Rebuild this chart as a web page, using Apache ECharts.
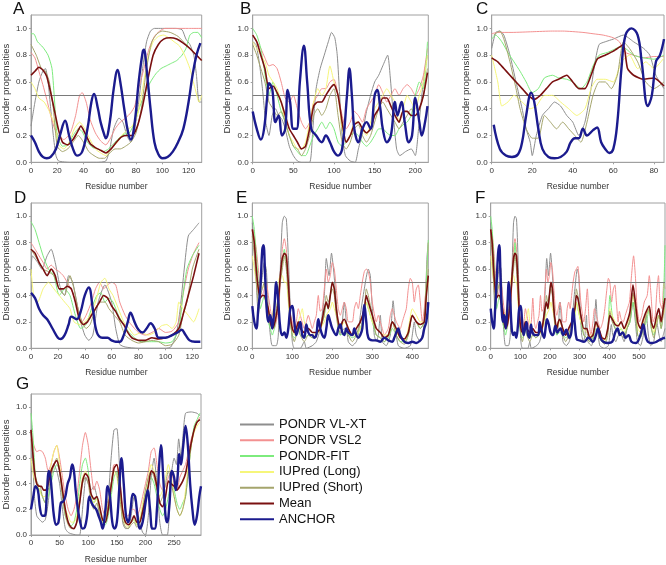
<!DOCTYPE html>
<html><head><meta charset="utf-8">
<script src="https://cdn.jsdelivr.net/npm/echarts@6/dist/echarts.min.js"></script>
<style>html,body{margin:0;padding:0;background:#fff}#c{width:666px;height:565px}</style>
</head><body><div id="c"></div>
<script>
const SERIES_NAMES = ['PONDR VL-XT','PONDR VSL2','PONDR-FIT','IUPred (Long)','IUPred (Short)','Mean','ANCHOR'];
const PANEL_LETTERS = ['A','B','C','D','E','F','G'];
const X_MAX = [130, 216, 85, 127, 440, 588, 297];
const X_INTERVAL = [20, 50, 20, 20, 100, 100, 50];
const Y_TICKS = [0, 0.2, 0.4, 0.6, 0.8, 1.0];

// ---- Panel A ----
const A_VLXT = [[0,0.27],[3,0.45],[6,0.6],[9,0.68],[11,0.7],[13,0.6],[15,0.4],[17,0.2],[19,0.05],[21,0.01],[30,0.0],[40,0.0],[50,0.0],[57,0.01],[60,0.1],[63,0.25],[67,0.33],[70,0.3],[73,0.2],[76,0.15],[79,0.25],[82,0.45],[85,0.7],[88,0.9],[91,0.98],[94,1.0],[100,1.0],[110,1.0],[115,0.99],[118,0.92],[121,0.88],[124,0.8],[126,0.65],[128,0.45],[130,0.45]];
const A_VSL2 = [[0,0.82],[3,0.78],[6,0.68],[9,0.58],[12,0.47],[15,0.35],[18,0.25],[21,0.2],[25,0.17],[30,0.22],[34,0.35],[37,0.5],[39,0.52],[42,0.45],[45,0.32],[49,0.22],[53,0.16],[57,0.13],[60,0.17],[64,0.25],[68,0.3],[72,0.33],[76,0.37],[79,0.42],[82,0.55],[86,0.7],[90,0.85],[94,0.94],[98,0.98],[102,1.0],[110,1.0],[120,1.0],[130,1.0]];
const A_FIT = [[0,0.96],[2,0.96],[5,0.9],[9,0.86],[13,0.8],[16,0.7],[18,0.45],[20,0.2],[24,0.12],[28,0.13],[32,0.2],[36,0.25],[39,0.23],[43,0.15],[47,0.11],[51,0.1],[55,0.08],[59,0.1],[63,0.14],[67,0.18],[71,0.21],[75,0.22],[79,0.3],[83,0.42],[87,0.52],[91,0.6],[95,0.66],[99,0.7],[103,0.72],[107,0.74],[111,0.76],[115,0.8],[118,0.85],[121,0.95],[124,0.97],[127,0.97],[130,0.93]];
const A_IUL = [[0,0.6],[3,0.55],[6,0.48],[10,0.45],[14,0.38],[18,0.28],[21,0.13],[25,0.1],[29,0.15],[33,0.25],[37,0.3],[41,0.25],[45,0.17],[49,0.1],[53,0.07],[57,0.05],[61,0.1],[65,0.14],[69,0.2],[73,0.24],[77,0.27],[81,0.35],[85,0.55],[89,0.78],[93,0.9],[97,0.94],[101,0.95],[105,0.93],[109,0.9],[113,0.87],[117,0.8],[121,0.7],[125,0.55],[128,0.45],[130,0.5]];
const A_IUS = [[0,0.88],[4,0.8],[8,0.7],[11,0.68],[14,0.6],[17,0.4],[20,0.12],[24,0.08],[28,0.1],[32,0.15],[36,0.2],[40,0.15],[44,0.08],[48,0.05],[52,0.03],[56,0.03],[60,0.07],[64,0.1],[68,0.1],[72,0.12],[76,0.15],[80,0.22],[84,0.4],[88,0.7],[92,0.9],[96,0.96],[100,0.98],[106,0.97],[112,0.94],[118,0.88],[124,0.82],[130,0.76]];
const A_MEAN = [[0,0.65],[3,0.68],[6,0.71],[9,0.69],[12,0.64],[15,0.52],[18,0.38],[21,0.24],[24,0.15],[28,0.13],[32,0.17],[35,0.22],[38,0.27],[41,0.22],[45,0.14],[49,0.11],[53,0.09],[57,0.07],[61,0.1],[65,0.15],[69,0.19],[73,0.2],[77,0.2],[81,0.27],[85,0.42],[89,0.62],[93,0.8],[97,0.88],[101,0.92],[106,0.93],[111,0.92],[116,0.89],[121,0.85],[126,0.8],[130,0.76]];
const A_ANCHOR = [[0,0.2],[3,0.15],[6,0.08],[9,0.04],[12,0.03],[15,0.04],[19,0.1],[22,0.2],[26,0.31],[29,0.2],[32,0.1],[35,0.05],[39,0.08],[43,0.25],[46,0.45],[48,0.51],[51,0.4],[53,0.3],[56,0.2],[57,0.18],[60,0.3],[63,0.55],[66,0.69],[68,0.6],[71,0.4],[74,0.22],[76,0.17],[79,0.3],[82,0.6],[85,0.82],[86,0.84],[88,0.7],[91,0.4],[94,0.15],[97,0.06],[100,0.03],[104,0.04],[108,0.08],[112,0.15],[116,0.25],[120,0.45],[123,0.65],[126,0.8],[129,0.89]];

// ---- Panel B ----
const B_VLXT = [[0,0.9],[4,0.88],[8,0.75],[12,0.55],[16,0.3],[20,0.2],[24,0.35],[28,0.4],[32,0.35],[36,0.32],[40,0.25],[45,0.12],[50,0.05],[55,0.01],[60,0.0],[70,0.0],[74,0.25],[78,0.55],[83,0.7],[88,0.8],[93,0.9],[97,0.97],[101,0.93],[104,0.8],[107,0.5],[110,0.2],[114,0.05],[120,0.01],[126,0.0],[130,0.1],[135,0.22],[140,0.38],[145,0.5],[150,0.6],[155,0.65],[160,0.72],[166,0.8],[169,0.65],[173,0.35],[177,0.1],[181,0.05],[188,0.08],[195,0.1],[200,0.05],[204,0.25],[208,0.5],[212,0.7],[215,0.8]];
const B_VSL2 = [[0,0.95],[5,0.9],[10,0.85],[15,0.78],[20,0.72],[25,0.73],[30,0.7],[35,0.6],[40,0.48],[45,0.45],[50,0.5],[55,0.4],[60,0.3],[65,0.25],[70,0.3],[75,0.45],[80,0.5],[85,0.55],[90,0.55],[95,0.6],[100,0.62],[105,0.5],[110,0.35],[115,0.25],[120,0.3],[125,0.38],[130,0.35],[135,0.3],[140,0.4],[145,0.45],[150,0.5],[155,0.58],[160,0.52],[165,0.45],[170,0.5],[175,0.55],[180,0.5],[185,0.55],[190,0.58],[195,0.55],[200,0.5],[205,0.55],[210,0.65],[215,0.85]];
const B_FIT = [[0,1.0],[5,0.95],[10,0.85],[14,0.7],[20,0.5],[25,0.6],[30,0.5],[35,0.38],[40,0.3],[45,0.2],[50,0.12],[55,0.08],[60,0.05],[65,0.05],[70,0.12],[75,0.2],[80,0.25],[85,0.3],[90,0.25],[95,0.3],[100,0.25],[105,0.15],[110,0.12],[115,0.15],[120,0.2],[125,0.22],[130,0.2],[135,0.15],[140,0.12],[145,0.15],[150,0.2],[155,0.25],[160,0.25],[165,0.22],[170,0.2],[175,0.2],[180,0.25],[185,0.28],[190,0.3],[195,0.35],[200,0.5],[205,0.6],[210,0.55],[215,0.9]];
const B_IUL = [[0,0.9],[5,0.85],[10,0.8],[15,0.75],[20,0.65],[25,0.6],[30,0.55],[35,0.45],[40,0.3],[45,0.2],[50,0.15],[55,0.1],[60,0.1],[65,0.15],[70,0.3],[75,0.45],[80,0.55],[85,0.5],[90,0.55],[95,0.72],[100,0.6],[105,0.5],[110,0.25],[115,0.15],[120,0.2],[125,0.3],[130,0.3],[135,0.25],[140,0.2],[145,0.3],[150,0.4],[155,0.45],[160,0.5],[165,0.55],[170,0.5],[175,0.45],[180,0.3],[185,0.4],[190,0.5],[195,0.45],[200,0.4],[205,0.5],[210,0.6],[215,0.8]];
const B_IUS = [[0,0.88],[5,0.8],[10,0.7],[15,0.6],[20,0.45],[25,0.4],[30,0.35],[35,0.38],[40,0.3],[45,0.2],[50,0.12],[55,0.1],[60,0.05],[65,0.1],[70,0.2],[75,0.35],[80,0.4],[85,0.35],[90,0.4],[95,0.5],[100,0.55],[105,0.35],[110,0.15],[115,0.1],[120,0.15],[125,0.25],[130,0.28],[135,0.2],[140,0.15],[145,0.2],[150,0.3],[155,0.4],[160,0.45],[165,0.4],[170,0.35],[175,0.3],[180,0.25],[185,0.3],[190,0.35],[195,0.4],[200,0.35],[205,0.4],[210,0.5],[215,0.7]];
const B_MEAN = [[0,0.95],[5,0.9],[10,0.8],[15,0.7],[20,0.55],[25,0.57],[30,0.52],[35,0.45],[40,0.35],[45,0.25],[50,0.2],[55,0.15],[60,0.1],[65,0.12],[70,0.25],[75,0.42],[80,0.45],[85,0.45],[90,0.5],[95,0.55],[100,0.58],[105,0.5],[110,0.3],[115,0.15],[120,0.2],[125,0.28],[130,0.3],[135,0.25],[140,0.22],[145,0.25],[150,0.35],[155,0.4],[160,0.48],[165,0.48],[170,0.42],[175,0.35],[180,0.3],[185,0.38],[190,0.38],[195,0.35],[200,0.35],[205,0.4],[210,0.5],[215,0.67]];
const B_ANCHOR = [[0,0.38],[5,0.25],[10,0.17],[14,0.25],[18,0.5],[20,0.59],[24,0.55],[28,0.3],[32,0.35],[36,0.2],[40,0.25],[43,0.54],[46,0.45],[50,0.25],[54,0.25],[58,0.6],[63,0.87],[67,0.6],[72,0.25],[78,0.2],[85,0.15],[90,0.2],[95,0.15],[100,0.08],[105,0.05],[110,0.1],[116,0.5],[119,0.7],[122,0.5],[125,0.25],[130,0.15],[135,0.25],[140,0.3],[145,0.25],[150,0.5],[153,0.54],[157,0.4],[160,0.25],[165,0.15],[170,0.2],[175,0.45],[178,0.35],[183,0.45],[187,0.3],[192,0.15],[196,0.2],[200,0.48],[205,0.3],[208,0.2],[212,0.3],[215,0.42]];

// ---- Panel C ----
const C_VLXT = [[0,0.85],[2,0.97],[4,0.98],[6,0.95],[9,0.8],[12,0.6],[15,0.4],[17,0.25],[19,0.15],[20,0.05],[22,0.2],[25,0.35],[28,0.4],[31,0.45],[34,0.42],[37,0.35],[40,0.3],[43,0.2],[46,0.3],[49,0.55],[51,0.75],[53,0.88],[56,0.9],[60,0.92],[65,0.95],[70,0.9],[75,0.85],[78,0.8],[81,0.65],[85,0.55]];
const C_VSL2 = [[0,0.96],[3,0.97],[10,0.97],[20,0.975],[30,0.98],[35,0.98],[45,0.97],[50,0.96],[55,0.95],[60,0.93],[63,0.9],[66,0.82],[70,0.8],[75,0.78],[80,0.79],[85,0.79]];
const C_FIT = [[0,0.92],[2,0.95],[5,0.9],[8,0.82],[11,0.75],[14,0.68],[17,0.6],[20,0.52],[23,0.55],[26,0.63],[30,0.65],[33,0.63],[37,0.62],[40,0.6],[44,0.55],[47,0.6],[50,0.72],[53,0.8],[57,0.82],[60,0.84],[63,0.86],[66,0.85],[70,0.8],[75,0.78],[80,0.77],[85,0.8]];
const C_IUL = [[0,0.8],[3,0.6],[5,0.42],[8,0.45],[11,0.5],[15,0.45],[19,0.4],[22,0.42],[26,0.5],[30,0.5],[34,0.45],[38,0.4],[42,0.35],[46,0.4],[49,0.55],[52,0.62],[56,0.62],[60,0.6],[64,0.75],[68,0.8],[72,0.7],[76,0.75],[80,0.7],[85,0.78]];
const C_IUS = [[1,0.95],[4,0.98],[6,0.92],[9,0.75],[12,0.55],[14,0.4],[17,0.25],[20,0.18],[23,0.18],[26,0.35],[29,0.3],[32,0.25],[35,0.3],[38,0.25],[41,0.2],[44,0.15],[47,0.3],[50,0.5],[53,0.6],[56,0.6],[59,0.55],[62,0.65],[65,0.9],[68,0.85],[72,0.75],[76,0.6],[80,0.55],[85,0.6]];
const C_MEAN = [[0,0.78],[3,0.75],[6,0.7],[9,0.65],[12,0.6],[15,0.55],[18,0.5],[21,0.47],[24,0.5],[27,0.55],[30,0.6],[33,0.62],[37,0.65],[40,0.6],[43,0.55],[46,0.55],[49,0.65],[52,0.77],[56,0.8],[60,0.83],[63,0.86],[65,0.88],[67,0.7],[70,0.65],[75,0.62],[80,0.63],[85,0.57]];
const C_ANCHOR = [[1,0.28],[4,0.1],[7,0.05],[10,0.04],[13,0.06],[15,0.15],[17,0.35],[19.5,0.52],[21,0.45],[23,0.25],[25,0.1],[28,0.04],[31,0.03],[34,0.04],[37,0.08],[39,0.15],[41,0.18],[43,0.18],[45,0.25],[47,0.2],[50,0.24],[52,0.26],[54,0.15],[56,0.1],[58,0.07],[60,0.1],[62,0.3],[64,0.7],[66,0.95],[69,1.0],[72,0.95],[74,0.75],[77,0.42],[79,0.5],[81,0.75],[83,0.8],[85,0.92]];

// ---- Panel D ----
const D_VLXT = [[0,0.55],[1,0.7],[5,0.65],[8,0.6],[12,0.7],[15,0.75],[18,0.65],[22,0.45],[25,0.4],[28,0.55],[31,0.5],[34,0.35],[37,0.2],[40,0.1],[43,0.06],[46,0.1],[50,0.35],[55,0.48],[60,0.35],[63,0.15],[66,0.03],[70,0.01],[80,0.0],[90,0.0],[100,0.0],[104,0.01],[108,0.1],[111,0.3],[114,0.6],[117,0.85],[121,0.9],[125,0.95]];
const D_VSL2 = [[0,0.8],[3,0.75],[6,0.7],[9,0.65],[12,0.6],[15,0.63],[18,0.6],[21,0.58],[24,0.55],[28,0.48],[31,0.42],[35,0.3],[38,0.2],[41,0.25],[45,0.35],[48,0.45],[51,0.5],[54,0.45],[57,0.48],[60,0.5],[63,0.48],[66,0.35],[70,0.25],[73,0.2],[77,0.15],[80,0.12],[85,0.1],[90,0.12],[95,0.15],[100,0.12],[105,0.13],[110,0.2],[113,0.4],[117,0.6],[121,0.72],[125,0.8]];
const D_FIT = [[0,0.96],[3,0.9],[6,0.8],[9,0.7],[13,0.6],[17,0.55],[21,0.4],[25,0.45],[29,0.4],[33,0.25],[37,0.15],[41,0.18],[45,0.3],[49,0.4],[52,0.42],[55,0.35],[58,0.38],[61,0.35],[65,0.25],[69,0.18],[73,0.12],[77,0.08],[82,0.05],[88,0.05],[95,0.05],[100,0.04],[105,0.05],[110,0.15],[113,0.4],[116,0.6],[120,0.7],[125,0.78]];
const D_IUL = [[0,0.6],[2,0.4],[5,0.35],[9,0.45],[13,0.5],[17,0.45],[21,0.4],[25,0.35],[29,0.3],[32,0.2],[36,0.18],[40,0.2],[44,0.25],[48,0.35],[52,0.5],[55,0.53],[58,0.45],[61,0.4],[65,0.3],[69,0.2],[73,0.15],[77,0.1],[82,0.12],[87,0.1],[92,0.12],[97,0.17],[101,0.18],[105,0.15],[108,0.2],[110,0.35],[113,0.3],[117,0.25],[121,0.2],[125,0.3]];
const D_IUS = [[0,0.75],[3,0.7],[6,0.65],[9,0.6],[13,0.58],[17,0.55],[21,0.45],[25,0.4],[29,0.55],[32,0.45],[35,0.3],[38,0.2],[41,0.15],[44,0.18],[48,0.3],[51,0.35],[55,0.35],[58,0.3],[62,0.25],[66,0.2],[70,0.1],[75,0.06],[80,0.04],[85,0.05],[90,0.06],[95,0.05],[100,0.02],[105,0.03],[110,0.1],[113,0.25],[116,0.35],[120,0.6],[125,0.75]];
const D_MEAN = [[0,0.75],[3,0.72],[6,0.65],[9,0.6],[12,0.55],[15,0.6],[18,0.55],[21,0.45],[24,0.45],[27,0.47],[30,0.45],[33,0.35],[36,0.22],[39,0.18],[42,0.2],[45,0.25],[48,0.3],[51,0.35],[54,0.4],[57,0.38],[60,0.32],[63,0.28],[66,0.22],[69,0.18],[72,0.12],[75,0.08],[80,0.06],[85,0.06],[90,0.08],[95,0.07],[100,0.08],[105,0.1],[110,0.15],[113,0.25],[117,0.4],[121,0.55],[125,0.72]];
const D_ANCHOR = [[0,0.42],[3,0.38],[6,0.3],[9,0.25],[12,0.22],[16,0.15],[20,0.08],[22,0.07],[25,0.1],[28,0.18],[30,0.24],[34,0.22],[37,0.28],[40,0.4],[43,0.46],[46,0.3],[49,0.12],[53,0.08],[57,0.08],[60,0.06],[63,0.05],[66,0.05],[69,0.1],[72,0.2],[74,0.27],[77,0.2],[80,0.14],[83,0.12],[86,0.15],[89,0.19],[92,0.15],[95,0.08],[100,0.08],[105,0.1],[109,0.12],[112,0.14],[115,0.1],[118,0.06],[122,0.05],[126,0.05]];

// ---- Panel E ----
const E_VLXT = [[0,0.95],[5,0.8],[10,0.5],[15,0.25],[20,0.4],[25,0.55],[30,0.65],[35,0.6],[40,0.3],[45,0.1],[50,0.02],[60,0.02],[65,0.1],[70,0.6],[75,0.95],[80,1.0],[85,0.98],[90,0.7],[95,0.3],[100,0.05],[105,0.0],[120,0.0],[130,0.05],[135,0.0],[150,0.02],[160,0.05],[170,0.15],[180,0.4],[185,0.68],[192,0.55],[198,0.72],[203,0.6],[210,0.35],[215,0.15],[220,0.1],[225,0.2],[230,0.35],[235,0.2],[240,0.05],[250,0.02],[260,0.05],[265,0.1],[270,0.25],[280,0.45],[290,0.6],[295,0.55],[300,0.3],[305,0.1],[310,0.05],[315,0.1],[320,0.25],[325,0.05],[335,0.02],[345,0.1],[352,0.36],[358,0.15],[365,0.02],[380,0.0],[395,0.02],[400,0.1],[405,0.2],[410,0.1],[420,0.05],[428,0.15],[433,0.4],[437,0.7],[440,0.8]];
const E_VSL2 = [[0,0.9],[5,0.85],[10,0.75],[15,0.6],[20,0.45],[25,0.4],[30,0.45],[35,0.5],[40,0.4],[45,0.3],[50,0.2],[55,0.15],[60,0.2],[65,0.3],[70,0.5],[75,0.75],[80,0.83],[85,0.75],[90,0.5],[95,0.25],[100,0.2],[105,0.15],[110,0.2],[115,0.3],[120,0.25],[130,0.15],[135,0.2],[140,0.25],[145,0.2],[150,0.15],[155,0.2],[160,0.25],[165,0.4],[170,0.28],[175,0.3],[180,0.45],[185,0.6],[190,0.5],[195,0.55],[200,0.65],[205,0.6],[210,0.45],[215,0.3],[220,0.25],[225,0.3],[230,0.35],[235,0.3],[240,0.2],[250,0.2],[255,0.3],[260,0.35],[265,0.3],[270,0.4],[275,0.5],[280,0.58],[285,0.6],[290,0.58],[295,0.5],[300,0.35],[310,0.2],[315,0.25],[320,0.2],[325,0.15],[330,0.1],[340,0.15],[345,0.25],[350,0.3],[355,0.25],[360,0.2],[370,0.15],[375,0.2],[380,0.25],[385,0.3],[390,0.45],[395,0.53],[400,0.5],[405,0.35],[410,0.45],[415,0.48],[420,0.35],[425,0.2],[430,0.3],[435,0.5],[440,0.8]];
const E_FIT = [[0,1.0],[5,0.9],[10,0.7],[15,0.5],[20,0.3],[25,0.35],[30,0.4],[35,0.3],[40,0.2],[45,0.15],[50,0.1],[55,0.15],[60,0.25],[65,0.4],[70,0.55],[75,0.65],[80,0.75],[85,0.65],[90,0.45],[95,0.2],[100,0.1],[105,0.08],[110,0.1],[115,0.15],[120,0.1],[130,0.08],[140,0.1],[150,0.08],[160,0.1],[170,0.15],[180,0.25],[185,0.35],[190,0.3],[195,0.4],[200,0.5],[205,0.45],[210,0.3],[215,0.15],[220,0.1],[230,0.12],[240,0.1],[250,0.08],[260,0.1],[270,0.15],[280,0.25],[285,0.35],[290,0.3],[300,0.2],[310,0.1],[320,0.08],[330,0.05],[340,0.08],[350,0.15],[360,0.1],[370,0.05],[380,0.05],[390,0.1],[400,0.25],[410,0.2],[420,0.15],[430,0.2],[435,0.5],[440,0.82]];
const E_IUL = [[0,0.7],[5,0.6],[10,0.5],[15,0.45],[20,0.5],[25,0.45],[30,0.48],[35,0.4],[40,0.3],[45,0.2],[50,0.25],[55,0.35],[60,0.45],[65,0.5],[70,0.55],[75,0.55],[80,0.5],[85,0.5],[90,0.35],[95,0.2],[100,0.15],[105,0.1],[110,0.15],[115,0.2],[120,0.25],[125,0.3],[130,0.2],[140,0.12],[150,0.1],[160,0.1],[170,0.15],[180,0.2],[185,0.25],[195,0.3],[200,0.35],[205,0.3],[210,0.25],[220,0.15],[230,0.2],[240,0.15],[250,0.1],[260,0.1],[270,0.15],[280,0.25],[285,0.35],[290,0.3],[300,0.2],[310,0.15],[320,0.12],[330,0.1],[340,0.1],[350,0.2],[360,0.12],[370,0.08],[380,0.05],[390,0.15],[400,0.3],[410,0.25],[420,0.2],[430,0.2],[435,0.4],[440,0.5]];
const E_IUS = [[0,0.85],[5,0.7],[10,0.5],[15,0.35],[20,0.4],[25,0.45],[30,0.5],[35,0.4],[40,0.3],[45,0.2],[50,0.15],[55,0.2],[60,0.3],[65,0.4],[70,0.5],[75,0.6],[80,0.7],[85,0.6],[90,0.4],[95,0.2],[100,0.1],[105,0.05],[110,0.1],[115,0.15],[120,0.1],[130,0.05],[140,0.1],[150,0.08],[160,0.1],[170,0.15],[180,0.25],[185,0.4],[190,0.35],[200,0.45],[205,0.4],[210,0.25],[215,0.15],[220,0.12],[230,0.15],[240,0.1],[250,0.05],[260,0.1],[270,0.2],[280,0.3],[285,0.45],[290,0.4],[300,0.25],[310,0.1],[320,0.08],[330,0.05],[340,0.1],[350,0.2],[360,0.1],[370,0.05],[380,0.03],[390,0.1],[400,0.25],[410,0.2],[420,0.15],[430,0.2],[437,0.5],[440,0.6]];
const E_MEAN = [[0,0.9],[5,0.8],[10,0.6],[15,0.45],[20,0.38],[25,0.4],[30,0.4],[35,0.35],[40,0.3],[45,0.2],[50,0.15],[55,0.18],[60,0.25],[65,0.35],[70,0.55],[75,0.68],[80,0.72],[85,0.7],[90,0.5],[95,0.25],[100,0.15],[105,0.12],[110,0.15],[115,0.2],[120,0.15],[130,0.12],[140,0.15],[150,0.12],[160,0.12],[170,0.15],[180,0.3],[185,0.35],[190,0.3],[195,0.4],[200,0.5],[205,0.45],[210,0.3],[215,0.2],[220,0.15],[225,0.2],[230,0.22],[240,0.15],[250,0.1],[260,0.15],[270,0.2],[280,0.3],[285,0.4],[290,0.35],[300,0.25],[310,0.15],[320,0.12],[330,0.08],[340,0.1],[350,0.2],[360,0.15],[370,0.08],[380,0.07],[390,0.12],[400,0.25],[410,0.2],[420,0.18],[430,0.2],[435,0.4],[440,0.55]];
const E_ANCHOR = [[0,0.32],[5,0.2],[10,0.15],[15,0.3],[20,0.45],[25,0.75],[28,0.78],[32,0.55],[36,0.3],[40,0.2],[45,0.25],[50,0.15],[55,0.3],[60,0.5],[65,0.35],[70,0.15],[75,0.1],[80,0.12],[85,0.08],[90,0.15],[95,0.3],[100,0.32],[105,0.2],[110,0.1],[115,0.15],[120,0.2],[125,0.1],[130,0.08],[135,0.18],[140,0.12],[145,0.1],[150,0.1],[155,0.08],[160,0.1],[165,0.22],[170,0.15],[175,0.1],[180,0.08],[185,0.15],[190,0.25],[195,0.2],[200,0.15],[210,0.1],[215,0.15],[220,0.18],[225,0.12],[230,0.1],[235,0.15],[240,0.12],[250,0.1],[255,0.15],[260,0.1],[265,0.08],[270,0.1],[275,0.15],[280,0.33],[285,0.2],[290,0.08],[300,0.06],[310,0.06],[320,0.05],[330,0.08],[340,0.06],[350,0.05],[355,0.08],[360,0.12],[365,0.15],[370,0.1],[380,0.05],[390,0.04],[400,0.05],[410,0.04],[420,0.06],[425,0.08],[430,0.15],[435,0.2],[440,0.35]];

// ---- Panel F ----
const F_VLXT = [[0,0.95],[5,0.8],[10,0.5],[15,0.25],[20,0.4],[25,0.55],[30,0.63],[35,0.6],[40,0.3],[45,0.1],[50,0.02],[60,0.02],[66,0.1],[72,0.6],[77,0.95],[82,1.0],[87,0.98],[92,0.7],[97,0.3],[102,0.05],[107,0.0],[125,0.0],[132,0.05],[137,0.0],[155,0.02],[165,0.05],[175,0.15],[183,0.4],[189,0.68],[195,0.55],[202,0.72],[207,0.6],[213,0.35],[218,0.15],[224,0.1],[229,0.2],[234,0.35],[239,0.2],[244,0.05],[255,0.02],[265,0.05],[270,0.1],[276,0.25],[284,0.45],[292,0.6],[297,0.55],[302,0.3],[307,0.1],[313,0.05],[318,0.1],[323,0.25],[328,0.05],[340,0.02],[348,0.1],[355,0.37],[361,0.15],[368,0.02],[383,0.0],[397,0.02],[402,0.1],[407,0.18],[412,0.1],[422,0.05],[432,0.1],[440,0.1],[450,0.05],[460,0.15],[470,0.2],[480,0.35],[488,0.2],[495,0.05],[505,0.02],[515,0.1],[525,0.25],[532,0.1],[540,0.02],[550,0.05],[560,0.2],[568,0.1],[575,0.05],[582,0.1],[588,0.15]];
const F_VSL2 = [[0,0.9],[5,0.85],[10,0.75],[15,0.6],[20,0.45],[25,0.4],[30,0.45],[35,0.5],[40,0.4],[45,0.3],[50,0.2],[55,0.15],[60,0.2],[66,0.3],[72,0.5],[77,0.75],[82,0.83],[87,0.75],[92,0.5],[97,0.25],[102,0.2],[107,0.15],[112,0.2],[117,0.3],[122,0.25],[132,0.15],[137,0.2],[142,0.38],[147,0.2],[152,0.15],[158,0.2],[163,0.25],[168,0.4],[173,0.28],[178,0.3],[183,0.45],[188,0.6],[193,0.5],[198,0.55],[203,0.65],[208,0.6],[213,0.45],[218,0.3],[223,0.25],[228,0.3],[233,0.35],[238,0.3],[243,0.2],[253,0.2],[258,0.3],[263,0.35],[268,0.3],[273,0.4],[278,0.5],[284,0.58],[289,0.6],[294,0.62],[299,0.5],[304,0.35],[314,0.2],[320,0.3],[326,0.45],[332,0.2],[338,0.1],[345,0.2],[350,0.3],[356,0.25],[362,0.2],[370,0.15],[378,0.2],[385,0.3],[392,0.45],[397,0.53],[402,0.5],[408,0.35],[414,0.45],[419,0.48],[424,0.35],[430,0.2],[434,0.28],[440,0.22],[447,0.2],[454,0.25],[461,0.3],[468,0.35],[475,0.55],[482,0.7],[488,0.55],[494,0.3],[502,0.2],[510,0.25],[518,0.35],[528,0.4],[535,0.55],[541,0.4],[548,0.2],[555,0.25],[561,0.45],[566,0.55],[571,0.35],[578,0.3],[584,0.5],[588,0.45]];
const F_FIT = [[0,1.0],[5,0.9],[10,0.7],[15,0.5],[20,0.3],[25,0.35],[30,0.4],[35,0.3],[40,0.2],[45,0.15],[50,0.1],[55,0.15],[61,0.25],[66,0.4],[72,0.55],[77,0.65],[82,0.8],[87,0.65],[92,0.45],[97,0.2],[102,0.1],[107,0.08],[112,0.1],[117,0.15],[122,0.1],[132,0.08],[142,0.1],[152,0.08],[163,0.1],[173,0.15],[183,0.25],[188,0.35],[193,0.3],[198,0.4],[203,0.5],[208,0.45],[213,0.3],[218,0.15],[223,0.1],[233,0.12],[243,0.1],[253,0.08],[263,0.1],[273,0.15],[284,0.25],[289,0.35],[294,0.3],[304,0.2],[314,0.1],[324,0.08],[334,0.05],[345,0.08],[355,0.15],[365,0.1],[375,0.05],[385,0.05],[395,0.15],[402,0.4],[410,0.25],[420,0.15],[430,0.12],[440,0.15],[450,0.1],[460,0.15],[470,0.2],[480,0.35],[488,0.25],[496,0.1],[505,0.08],[515,0.15],[525,0.2],[535,0.3],[542,0.15],[550,0.1],[560,0.2],[567,0.25],[575,0.15],[582,0.3],[586,0.6],[588,0.78]];
const F_IUL = [[0,0.7],[5,0.6],[10,0.5],[15,0.45],[20,0.5],[25,0.45],[30,0.48],[35,0.4],[40,0.3],[45,0.2],[50,0.25],[56,0.35],[61,0.45],[66,0.5],[72,0.55],[77,0.55],[82,0.5],[87,0.5],[92,0.35],[97,0.2],[102,0.15],[107,0.1],[112,0.15],[117,0.2],[122,0.25],[127,0.3],[132,0.2],[142,0.12],[152,0.1],[163,0.1],[173,0.15],[183,0.2],[188,0.25],[198,0.3],[203,0.35],[208,0.3],[213,0.25],[223,0.15],[233,0.2],[243,0.15],[253,0.1],[263,0.1],[273,0.15],[284,0.25],[289,0.35],[294,0.3],[304,0.2],[314,0.15],[324,0.12],[334,0.1],[345,0.1],[355,0.2],[365,0.12],[375,0.08],[385,0.05],[395,0.15],[402,0.3],[410,0.25],[420,0.2],[430,0.18],[440,0.15],[450,0.12],[460,0.18],[470,0.25],[480,0.4],[488,0.3],[496,0.15],[505,0.12],[515,0.2],[525,0.25],[535,0.3],[542,0.2],[550,0.12],[560,0.2],[567,0.25],[575,0.2],[582,0.25],[588,0.3]];
const F_IUS = [[0,0.85],[5,0.7],[10,0.5],[15,0.35],[20,0.4],[25,0.45],[30,0.5],[35,0.4],[40,0.3],[45,0.2],[50,0.15],[56,0.2],[61,0.3],[66,0.4],[72,0.5],[77,0.6],[82,0.7],[87,0.6],[92,0.4],[97,0.2],[102,0.1],[107,0.05],[112,0.1],[117,0.15],[122,0.1],[132,0.05],[142,0.1],[152,0.08],[163,0.1],[173,0.15],[183,0.25],[188,0.4],[193,0.35],[203,0.45],[208,0.4],[213,0.25],[218,0.15],[223,0.12],[233,0.15],[243,0.1],[253,0.05],[263,0.1],[273,0.2],[284,0.3],[289,0.45],[294,0.4],[304,0.25],[314,0.1],[324,0.08],[334,0.05],[345,0.1],[355,0.2],[365,0.1],[375,0.05],[385,0.03],[395,0.1],[402,0.28],[410,0.2],[420,0.15],[430,0.12],[440,0.1],[450,0.08],[460,0.15],[470,0.22],[480,0.42],[488,0.3],[496,0.1],[505,0.08],[515,0.15],[525,0.25],[535,0.3],[542,0.15],[550,0.08],[560,0.18],[567,0.25],[575,0.15],[582,0.25],[588,0.35]];
const F_MEAN = [[0,0.9],[5,0.8],[10,0.6],[15,0.45],[20,0.38],[25,0.4],[30,0.4],[35,0.35],[40,0.3],[45,0.2],[50,0.15],[56,0.18],[61,0.25],[66,0.35],[72,0.55],[77,0.68],[82,0.72],[87,0.7],[92,0.5],[97,0.25],[102,0.15],[107,0.12],[112,0.15],[117,0.2],[122,0.15],[132,0.12],[142,0.15],[152,0.12],[163,0.12],[173,0.15],[183,0.3],[188,0.35],[193,0.3],[198,0.4],[203,0.5],[208,0.45],[213,0.3],[218,0.2],[223,0.15],[228,0.2],[233,0.22],[243,0.15],[253,0.1],[263,0.15],[273,0.2],[284,0.3],[289,0.4],[294,0.38],[304,0.25],[314,0.15],[324,0.15],[334,0.08],[345,0.1],[355,0.2],[365,0.15],[375,0.08],[385,0.07],[395,0.15],[402,0.25],[410,0.22],[420,0.18],[430,0.17],[440,0.2],[450,0.15],[460,0.2],[470,0.28],[480,0.48],[488,0.35],[496,0.2],[505,0.15],[515,0.22],[525,0.28],[535,0.32],[542,0.2],[550,0.15],[560,0.25],[567,0.3],[575,0.2],[582,0.3],[588,0.38]];
const F_ANCHOR = [[0,0.3],[5,0.2],[10,0.15],[15,0.3],[20,0.5],[25,0.72],[29,0.78],[33,0.55],[37,0.3],[41,0.2],[46,0.25],[51,0.15],[56,0.3],[61,0.5],[66,0.35],[71,0.15],[76,0.1],[81,0.12],[86,0.08],[91,0.15],[96,0.3],[101,0.32],[106,0.2],[111,0.1],[116,0.15],[121,0.2],[126,0.1],[131,0.08],[136,0.18],[141,0.12],[150,0.1],[160,0.1],[165,0.2],[170,0.15],[180,0.08],[185,0.15],[190,0.22],[196,0.18],[202,0.12],[210,0.1],[218,0.17],[225,0.12],[235,0.15],[245,0.1],[255,0.14],[265,0.08],[272,0.12],[278,0.3],[284,0.18],[290,0.07],[300,0.06],[315,0.05],[330,0.08],[345,0.05],[355,0.1],[362,0.15],[370,0.08],[380,0.05],[395,0.04],[410,0.05],[420,0.12],[428,0.15],[436,0.1],[445,0.12],[455,0.08],[465,0.1],[475,0.05],[490,0.04],[505,0.1],[515,0.18],[522,0.1],[530,0.05],[545,0.04],[560,0.05],[575,0.07],[588,0.08]];

// ---- Panel G ----
const G_VLXT = [[0,0.82],[3,0.6],[6,0.3],[10,0.15],[15,0.12],[20,0.1],[25,0.12],[30,0.25],[35,0.45],[40,0.55],[45,0.5],[50,0.4],[55,0.2],[60,0.05],[65,0.02],[70,0.01],[80,0.0],[85,0.0],[88,0.1],[92,0.3],[96,0.45],[100,0.4],[105,0.35],[110,0.38],[115,0.3],[120,0.15],[125,0.1],[130,0.15],[135,0.3],[140,0.6],[145,0.82],[150,0.83],[155,0.5],[160,0.1],[165,0.05],[170,0.05],[175,0.15],[180,0.3],[185,0.2],[190,0.1],[195,0.02],[200,0.0],[205,0.15],[210,0.45],[215,0.6],[220,0.4],[225,0.1],[230,0.0],[238,0.0],[242,0.2],[246,0.5],[250,0.6],[254,0.55],[258,0.75],[262,0.6],[266,0.8],[270,0.95],[280,0.96],[290,0.95],[295,0.93]];
const G_VSL2 = [[0,0.8],[5,0.7],[10,0.65],[15,0.66],[20,0.65],[25,0.6],[30,0.5],[35,0.55],[40,0.65],[45,0.7],[50,0.6],[55,0.45],[60,0.3],[65,0.2],[70,0.15],[75,0.2],[80,0.3],[85,0.5],[90,0.7],[95,0.8],[100,0.7],[105,0.5],[110,0.35],[115,0.42],[120,0.35],[125,0.2],[130,0.15],[135,0.25],[140,0.4],[145,0.55],[150,0.55],[155,0.4],[160,0.2],[165,0.15],[170,0.15],[175,0.2],[180,0.2],[185,0.15],[190,0.2],[195,0.3],[200,0.4],[205,0.5],[210,0.65],[215,0.68],[220,0.55],[225,0.4],[230,0.35],[235,0.38],[240,0.45],[245,0.5],[250,0.4],[255,0.35],[260,0.45],[265,0.5],[270,0.55],[275,0.65],[280,0.75],[285,0.82],[290,0.88],[295,0.92]];
const G_FIT = [[0,0.95],[3,0.8],[7,0.5],[10,0.4],[15,0.35],[20,0.3],[25,0.25],[30,0.3],[35,0.4],[40,0.5],[45,0.55],[50,0.5],[55,0.3],[60,0.15],[65,0.1],[70,0.07],[75,0.1],[80,0.2],[85,0.4],[90,0.55],[95,0.6],[100,0.5],[105,0.3],[110,0.25],[115,0.3],[120,0.2],[125,0.1],[130,0.08],[135,0.15],[140,0.3],[145,0.45],[150,0.5],[155,0.35],[160,0.15],[165,0.1],[170,0.08],[175,0.1],[180,0.12],[185,0.08],[190,0.1],[195,0.2],[200,0.3],[205,0.4],[210,0.45],[215,0.4],[220,0.3],[225,0.2],[230,0.15],[235,0.2],[240,0.3],[245,0.4],[250,0.35],[255,0.25],[260,0.2],[265,0.25],[270,0.3],[275,0.5],[280,0.7],[285,0.85],[290,0.9],[295,0.95]];
const G_IUL = [[0,0.6],[5,0.45],[10,0.4],[15,0.35],[20,0.3],[25,0.3],[30,0.4],[35,0.55],[40,0.65],[45,0.7],[50,0.55],[55,0.35],[60,0.2],[65,0.15],[70,0.1],[75,0.1],[80,0.15],[85,0.3],[90,0.45],[95,0.5],[100,0.45],[105,0.3],[110,0.25],[115,0.28],[120,0.2],[125,0.1],[130,0.12],[135,0.25],[140,0.4],[145,0.5],[150,0.45],[155,0.3],[160,0.15],[165,0.08],[170,0.06],[175,0.1],[180,0.12],[185,0.08],[190,0.12],[195,0.25],[200,0.35],[205,0.45],[210,0.55],[215,0.5],[220,0.4],[225,0.3],[230,0.35],[235,0.45],[240,0.55],[245,0.45],[250,0.3],[255,0.2],[260,0.15],[265,0.2],[270,0.35],[275,0.55],[280,0.7],[285,0.8],[290,0.85],[295,0.88]];
const G_IUS = [[0,0.75],[4,0.6],[8,0.45],[12,0.4],[16,0.38],[20,0.3],[25,0.25],[30,0.35],[35,0.45],[40,0.55],[45,0.6],[50,0.5],[55,0.3],[60,0.15],[65,0.08],[70,0.05],[75,0.05],[80,0.1],[85,0.25],[90,0.4],[95,0.45],[100,0.4],[105,0.25],[110,0.2],[115,0.25],[120,0.15],[125,0.08],[130,0.1],[135,0.25],[140,0.4],[145,0.5],[150,0.48],[155,0.3],[160,0.12],[165,0.06],[170,0.05],[175,0.08],[180,0.1],[185,0.06],[190,0.1],[195,0.2],[200,0.35],[205,0.45],[210,0.5],[215,0.45],[220,0.35],[225,0.25],[230,0.3],[235,0.4],[240,0.5],[245,0.4],[250,0.3],[255,0.2],[260,0.15],[265,0.2],[270,0.3],[275,0.5],[280,0.7],[285,0.82],[290,0.88],[295,0.9]];
const G_MEAN = [[0,0.82],[3,0.65],[6,0.5],[10,0.4],[14,0.38],[18,0.38],[22,0.35],[26,0.35],[30,0.4],[35,0.5],[40,0.55],[45,0.58],[50,0.5],[55,0.35],[60,0.2],[65,0.1],[70,0.06],[75,0.05],[80,0.1],[85,0.25],[90,0.42],[95,0.48],[100,0.45],[105,0.32],[110,0.28],[115,0.3],[120,0.22],[125,0.12],[130,0.1],[135,0.2],[140,0.38],[145,0.52],[150,0.55],[155,0.42],[160,0.2],[165,0.1],[170,0.08],[175,0.1],[180,0.15],[185,0.1],[190,0.1],[195,0.18],[200,0.28],[205,0.38],[210,0.5],[215,0.48],[220,0.38],[225,0.25],[230,0.22],[235,0.3],[240,0.42],[245,0.4],[250,0.38],[255,0.35],[260,0.38],[265,0.42],[270,0.48],[275,0.6],[280,0.72],[285,0.82],[290,0.88],[295,0.9]];
const G_ANCHOR = [[0,0.2],[4,0.3],[8,0.38],[12,0.35],[16,0.2],[20,0.15],[24,0.15],[28,0.35],[31,0.5],[34,0.45],[37,0.3],[40,0.15],[44,0.08],[48,0.1],[52,0.25],[56,0.26],[60,0.3],[64,0.4],[68,0.45],[72,0.55],[75,0.5],[78,0.35],[82,0.2],[86,0.1],[90,0.05],[94,0.06],[98,0.15],[102,0.3],[106,0.25],[110,0.22],[114,0.2],[118,0.15],[122,0.1],[125,0.05],[130,0.2],[134,0.38],[138,0.3],[142,0.1],[146,0.05],[150,0.1],[154,0.35],[158,0.6],[162,0.4],[166,0.15],[170,0.1],[174,0.2],[178,0.32],[182,0.3],[186,0.15],[190,0.05],[195,0.1],[200,0.25],[204,0.35],[208,0.2],[212,0.05],[216,0.05],[220,0.2],[224,0.55],[227,0.7],[231,0.45],[235,0.15],[238,0.1],[242,0.25],[246,0.5],[250,0.45],[253,0.35],[256,0.45],[259,0.63],[262,0.55],[266,0.7],[270,0.85],[274,0.7],[278,0.4],[282,0.2],[286,0.08],[290,0.15],[294,0.3],[297,0.38]];

const PANEL_DATA = [
  [A_VLXT, A_VSL2, A_FIT, A_IUL, A_IUS, A_MEAN, A_ANCHOR],
  [B_VLXT, B_VSL2, B_FIT, B_IUL, B_IUS, B_MEAN, B_ANCHOR],
  [C_VLXT, C_VSL2, C_FIT, C_IUL, C_IUS, C_MEAN, C_ANCHOR],
  [D_VLXT, D_VSL2, D_FIT, D_IUL, D_IUS, D_MEAN, D_ANCHOR],
  [E_VLXT, E_VSL2, E_FIT, E_IUL, E_IUS, E_MEAN, E_ANCHOR],
  [F_VLXT, F_VSL2, F_FIT, F_IUL, F_IUS, F_MEAN, F_ANCHOR],
  [G_VLXT, G_VSL2, G_FIT, G_IUL, G_IUS, G_MEAN, G_ANCHOR]
];

// ---- layout / style ----
const GRIDS = [
  {left:28.7, top:15, width:173, height:147.3},
  {left:252.7, top:15, width:175.6, height:147.3},
  {left:491.7, top:15, width:172.3, height:147.3},
  {left:30, top:203, width:171.7, height:145.3},
  {left:252.3, top:203, width:176, height:145.3},
  {left:490.7, top:203, width:174.3, height:145.3},
  {left:27.3, top:394, width:173.7, height:145.3}
];
const LETTER_POS = [[13,1],[240,1],[476,1],[14,190],[236,190],[475,190],[16,376]];
const COLORS = ['#8e8e8e','#f39191','#7deb7d','#f6f67a','#a5a56c','#7a1010','#1b1b8e'];
const WIDTHS = [1,1,1,1,1,1.6,2.4];
const FONT = 'Liberation Sans, Arial, Helvetica, sans-serif';

const chart = echarts.init(document.getElementById('c'), null, {renderer:'canvas'});
const series = [];
PANEL_DATA.forEach((panel, i) => {
  panel.forEach((d, s) => {
    const ser = {
      type:'line', name:SERIES_NAMES[s], xAxisIndex:i, yAxisIndex:i, data:d,
      symbol:'none', showSymbol:false, smooth: s === 6 ? 0.4 : 0.2,
      lineStyle:{color:COLORS[s], width:WIDTHS[s]}, itemStyle:{color:COLORS[s]},
      silent:true, z: 2 + s
    };
    if (s === 0) {
      ser.markLine = {silent:true, symbol:'none', label:{show:false},
        lineStyle:{color:'#7a7a7a', type:'solid', width:1}, data:[{yAxis:0.5}]};
    }
    series.push(ser);
  });
});

chart.setOption({
  animation:false,
  backgroundColor:'#fff',
  title: PANEL_LETTERS.map((t,i)=>({text:t, left:LETTER_POS[i][0], top:LETTER_POS[i][1], padding:0,
    textStyle:{fontSize:17, fontWeight:'normal', color:'#111', fontFamily:FONT}})),
  legend: {orient:'vertical', left:239, top:418, padding:0, itemWidth:34, itemHeight:14, itemGap:2.8,
    itemStyle:{color:'transparent', borderColor:'transparent', borderWidth:0, opacity:0},
    textStyle:{fontSize:13, color:'#111', fontFamily:FONT}, data:SERIES_NAMES, selectedMode:false},
  grid: GRIDS.map(g => Object.assign({show:true, borderColor:'#a0a0a0', borderWidth:1, backgroundColor:'transparent'}, g)),
  xAxis: GRIDS.map((g,i)=>({gridIndex:i, type:'value', min:0, max:X_MAX[i], interval:X_INTERVAL[i],
    name:'Residue number', nameLocation:'middle', nameGap:20,
    nameTextStyle:{fontSize:8.5, color:'#333', fontFamily:FONT},
    axisLine:{show:true, lineStyle:{color:'#a0a0a0'}},
    axisTick:{show:true, length:2, lineStyle:{color:'#a0a0a0'}},
    axisLabel:{fontSize:8, color:'#333', margin:4, showMaxLabel:false, fontFamily:FONT},
    splitLine:{show:false}})),
  yAxis: GRIDS.map((g,i)=>({gridIndex:i, type:'value', min:0, max:1.1, interval:0.2,
    name:'Disorder propensities', nameLocation:'middle', nameGap:20,
    nameTextStyle:{fontSize:9.5, color:'#333', fontFamily:FONT},
    axisLine:{show:true, lineStyle:{color:'#a0a0a0'}},
    axisTick:{show:true, length:2, lineStyle:{color:'#a0a0a0'}},
    axisLabel:{fontSize:8, color:'#333', margin:4, showMaxLabel:false, fontFamily:FONT,
      formatter: v => Y_TICKS.some(t => Math.abs(t - v) < 1e-6) ? v.toFixed(1) : ''},
    splitLine:{show:false}})),
  series: series
});
</script></body></html>
